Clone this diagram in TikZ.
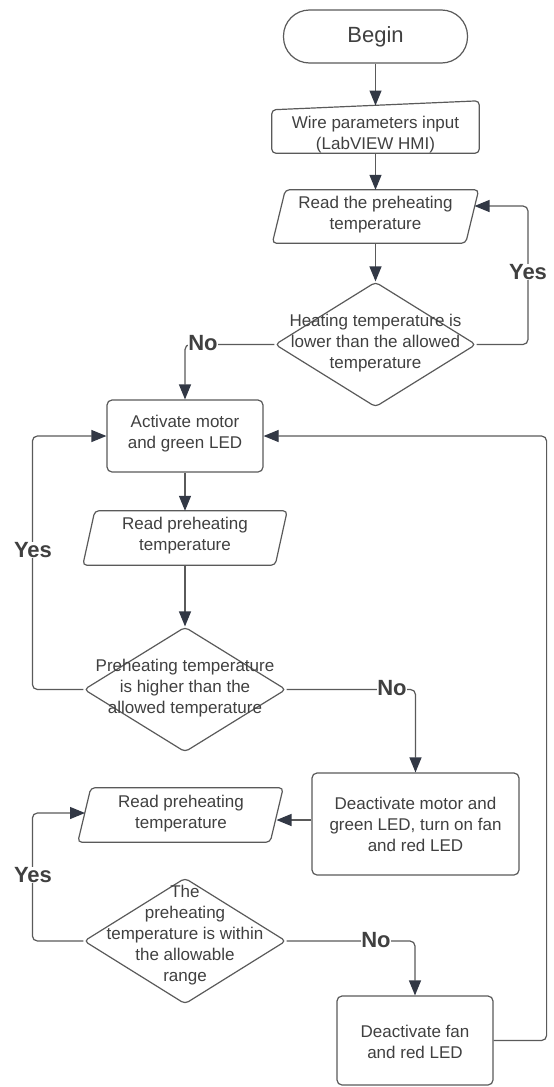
\documentclass[tikz,border=0pt]{standalone}
\usepackage{fontspec}
\setmainfont{Liberation Sans}
\usetikzlibrary{arrows.meta,shapes.geometric,calc}
\definecolor{edgec}{HTML}{5A5A5A}
\definecolor{txtc}{HTML}{404040}
\definecolor{tipc}{HTML}{323845}
\begin{document}
\begin{tikzpicture}[x=1pt,y=-1pt,
  shp/.style={draw=edgec, line width=1.2pt},
  boxn/.style={shp, rectangle, rounded corners=5pt, inner sep=0pt},
  ghost/.style={rectangle, draw=none, inner sep=0pt},
  dia/.style={shp, diamond, inner sep=0pt, rounded corners=4pt},
  txtf/.style={font=\fontsize{17}{21}\selectfont, align=center, text=txtc, inner sep=0pt},
  lbl/.style={font=\bfseries\fontsize{22}{24}\selectfont, text=txtc, fill=white, inner sep=0.5pt},
  conn/.style={draw=edgec, line width=1.2pt, rounded corners=5pt,
    -{Triangle[length=15pt,width=12pt,color=tipc]}}
]
\useasboundingbox[fill=white] (0,0) rectangle (554,1087);

% ---- shapes ----
\node[boxn, minimum width=184pt, minimum height=53pt, rounded corners=26pt,
  font=\fontsize{22}{24}\selectfont, text=txtc] (begin) at (375.5,36.5) {Begin};

\node[ghost, minimum width=207pt, minimum height=52pt] (wire) at (375.5,127) {};
\draw[shp, rounded corners=4pt] ($(wire.north west)+(0,9)$) -- (wire.north east)
  -- (wire.south east) -- (wire.south west) -- cycle;
\node[txtf] (wiret) at (375.5,135) {Wire parameters input\\(LabVIEW HMI)};
\coordinate (wtop) at (375.5,105.5);

\node[ghost, minimum width=206pt, minimum height=53pt] (r1) at (375.5,216.5) {};
\draw[shp, rounded corners=4pt] ($(r1.north west)+(13,0)$) -- (r1.north east)
  -- ($(r1.south east)+(-13,0)$) -- (r1.south west) -- cycle;
\node[txtf] (r1t) at (375.5,215) {Read the preheating\\temperature};
\coordinate (r1e) at (474.5,206);

\node[dia, minimum width=201pt, minimum height=125pt] (d1) at (375.5,344.5) {};
\node[txtf] (d1t) at (375.5,343) {Heating temperature is\\lower than the allowed\\temperature};

\node[boxn, minimum width=156pt, minimum height=72pt] (act) at (185,436) {};
\node[txtf] (actt) at (185,434) {Activate motor\\and green LED};

\node[ghost, minimum width=204pt, minimum height=54pt] (r2) at (185,538) {};
\draw[shp, rounded corners=4pt] ($(r2.north west)+(12,0)$) -- (r2.north east)
  -- ($(r2.south east)+(-12,0)$) -- (r2.south west) -- cycle;
\node[txtf] (r2t) at (185,536) {Read preheating\\temperature};

\node[dia, minimum width=202pt, minimum height=125pt] (d2) at (185,689.5) {};
\node[txtf] (d2t) at (185,688) {Preheating temperature\\is higher than the\\allowed temperature};

\node[boxn, minimum width=207pt, minimum height=102pt] (deact1) at (415.5,824) {};
\node[txtf] (deact1t) at (415.5,824) {Deactivate motor and\\green LED, turn on fan\\and red LED};

\node[ghost, minimum width=205pt, minimum height=54pt] (r3) at (180.5,815) {};
\draw[shp, rounded corners=4pt] ($(r3.north west)+(13,0)$) -- (r3.north east)
  -- ($(r3.south east)+(-13,0)$) -- (r3.south west) -- cycle;
\node[txtf] (r3t) at (181,814) {Read preheating\\temperature};
\coordinate (r3e) at (276.5,820);
\coordinate (r3w) at (85,813);

\node[dia, minimum width=202pt, minimum height=126pt] (d3) at (185,941) {};
\node[txtf] (d3t) at (185,935) {The\\preheating\\temperature is within\\the allowable\\range};

\node[boxn, minimum width=156pt, minimum height=89pt] (deact2) at (415,1040.5) {};
\node[txtf] (deact2t) at (415,1042) {Deactivate fan\\and red LED};

% ---- connectors ----
\draw[conn] (begin.south) -- (wtop);
\draw[conn] (wire.south) -- (r1.north);
\draw[conn] (r1.south) -- (d1.north);
\draw[conn] (d1.east) -| ($(r1e)+(53.5,0)$) -- (r1e);
\node[lbl] (yes1) at (528,272) {Yes};
\draw[conn] (d1.west) -| (act.north);
\node[lbl] (no1) at (203,343) {No};

\draw[conn] (act.south) -- (r2.north);
\draw[conn] (r2.south) -- (d2.north);
\draw[conn] (d2.west) -- ++(-51,0) |- (act.west);
\node[lbl] (yes2) at (33,550) {Yes};
\draw[conn] (d2.east) -| (deact1.north);
\node[lbl] (no2) at (392,688) {No};

\draw[conn] (deact1.west |- r3e) -- (r3e);
\draw[conn] (d3.west) -- ++(-51,0) |- (r3w);
\node[lbl] (yes3) at (33,875) {Yes};
\draw[conn] (d3.east) -| (deact2.north);
\node[lbl] (no3) at (376,940) {No};
\draw[conn] (deact2.east) -- ++(53,0) |- (act.east);
\end{tikzpicture}
\end{document}
